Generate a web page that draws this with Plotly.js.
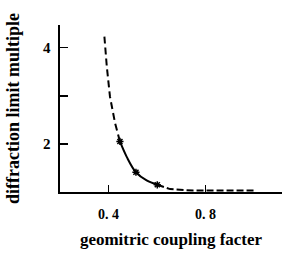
<!DOCTYPE html>
<html><head><meta charset="utf-8">
<script src="https://cdn.plot.ly/plotly-3.0.1.min.js"></script>
<style>html,body{margin:0;padding:0;background:#fff}#c{width:282px;height:253px}</style>
</head><body><div id="c"></div>
<script>
// dashed upper branch
const upperX = [0.383, 0.393, 0.406, 0.427, 0.447];
const upperY = [4.23, 3.60, 2.98, 2.43, 2.05];
// solid measured branch
const solidX = [0.447, 0.475, 0.513, 0.557, 0.601];
const solidY = [2.05, 1.73, 1.41, 1.24, 1.15];
// measured points
const pointX = [0.447, 0.513, 0.601];
const pointY = [2.05, 1.41, 1.15];
// dashed tail
const tailX = [0.601, 0.654, 0.75, 0.88, 1.01];
const tailY = [1.15, 1.06, 1.03, 1.03, 1.03];
const xTickVals = [0.4, 0.8];
const xTickText = ["0. 4", "0. 8"];
const yTickVals = [2, 3, 4];
const yTickText = ["2", "", "4"];

const fam = "Liberation Serif, DejaVu Serif, serif";
const traces = [
  {x: upperX, y: upperY, mode: "lines", line: {color: "#000", width: 2, dash: "7px,4px"}},
  {x: solidX, y: solidY, mode: "lines", line: {color: "#000", width: 2, shape: "spline"}},
  {x: tailX, y: tailY, mode: "lines", line: {color: "#000", width: 2, dash: "7px,3px"}},
  {x: pointX, y: pointY, mode: "markers", marker: {symbol: "asterisk-open", size: 6, color: "#000", line: {width: 1.5, color: "#000"}}}
];
const yLabels = yTickVals.map((v, i) => ({
  xref: "paper", yref: "y", x: 0, y: v, text: yTickText[i], showarrow: false,
  xanchor: "right", yanchor: "middle", xshift: -7,
  font: {family: fam, size: 15, weight: "bold", color: "#000"}
})).filter(a => a.text !== "");
const layout = {
  width: 282, height: 253,
  margin: {l: 60, r: 0, t: 25, b: 61},
  showlegend: false,
  paper_bgcolor: "#fff", plot_bgcolor: "#fff",
  font: {family: fam, color: "#000"},
  annotations: yLabels,
  xaxis: {range: [0.2, 1.115], tickvals: xTickVals, ticktext: xTickText, ticks: "inside", ticklen: 7, tickwidth: 1.5, tickcolor: "#000",
    showline: true, linecolor: "#000", linewidth: 2, showgrid: false, zeroline: false, ticklabelstandoff: 8,
    tickfont: {family: fam, size: 14, weight: "bold", color: "#000"},
    title: {text: "geomitric coupling facter", font: {family: fam, size: 17, weight: "bold", color: "#000"}, standoff: 12}},
  yaxis: {range: [1, 4.47], tickvals: yTickVals, showticklabels: false, ticks: "inside", ticklen: 8, tickwidth: 1.5, tickcolor: "#000",
    showline: true, linecolor: "#000", linewidth: 2, showgrid: false, zeroline: false,
    title: {text: "diffraction limit multiple", font: {family: fam, size: 18, weight: "bold", color: "#000"}, standoff: 34}}
};
Plotly.newPlot("c", traces, layout, {staticPlot: true, displayModeBar: false});
</script></body></html>
